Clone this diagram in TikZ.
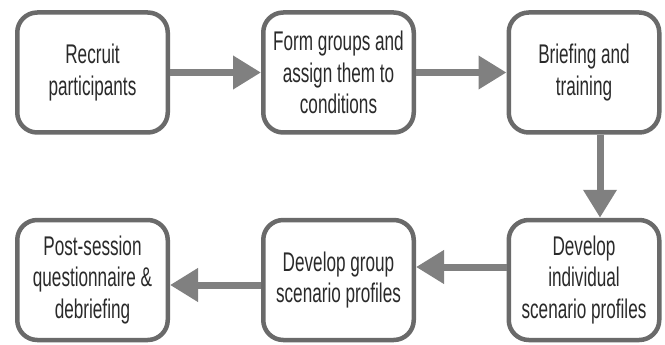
\documentclass[tikz,border=0pt]{standalone}
\usepackage{fontspec}
\setmainfont[FakeStretch=0.635]{Liberation Sans}
\usetikzlibrary{arrows.meta}
\definecolor{boxline}{HTML}{6A6A6A}
\definecolor{arrowcol}{HTML}{808080}
\definecolor{txt}{HTML}{2A2A2A}
\tikzset{
  stepbox/.style={draw=boxline, line width=4.5pt, rounded corners=20pt, fill=white,
    minimum width=150.5pt, minimum height=120pt, inner sep=0pt, align=center,
    text=txt, font=\fontsize{27pt}{31.5pt}\selectfont},
  arr/.style={draw=arrowcol, line width=7pt,
    -{Triangle[length=28pt,width=32pt]}, arrowcol}
}
\begin{document}
\begin{tikzpicture}[x=1pt,y=-1pt]
\useasboundingbox (0,0) rectangle (665,345);
\node[stepbox] (b1) at (92.5,72.5) {Recruit\\participants};
\node[stepbox] (b2) at (338.5,72.5) {Form groups and\\assign them to\\conditions};
\node[stepbox] (b3) at (584,72.5) {Briefing and\\training};
\node[stepbox] (b6) at (584,280) {Develop\\individual\\scenario profiles};
\node[stepbox] (b5) at (338.5,280) {Develop group\\scenario profiles};
\node[stepbox] (b4) at (92.5,280) {Post-session\\questionnaire \&\\debriefing};
\draw[arr] (b1.east) -- (b2.west);
\draw[arr] (b2.east) -- (b3.west);
\draw[arr] ([xshift=16pt]b3.south) -- ([xshift=16pt]b6.north);
\draw[arr] ([yshift=13pt]b6.west) -- ([yshift=13pt]b5.east);
\draw[arr] ([yshift=-5pt]b5.west) -- ([yshift=-5pt]b4.east);
\end{tikzpicture}
\end{document}
